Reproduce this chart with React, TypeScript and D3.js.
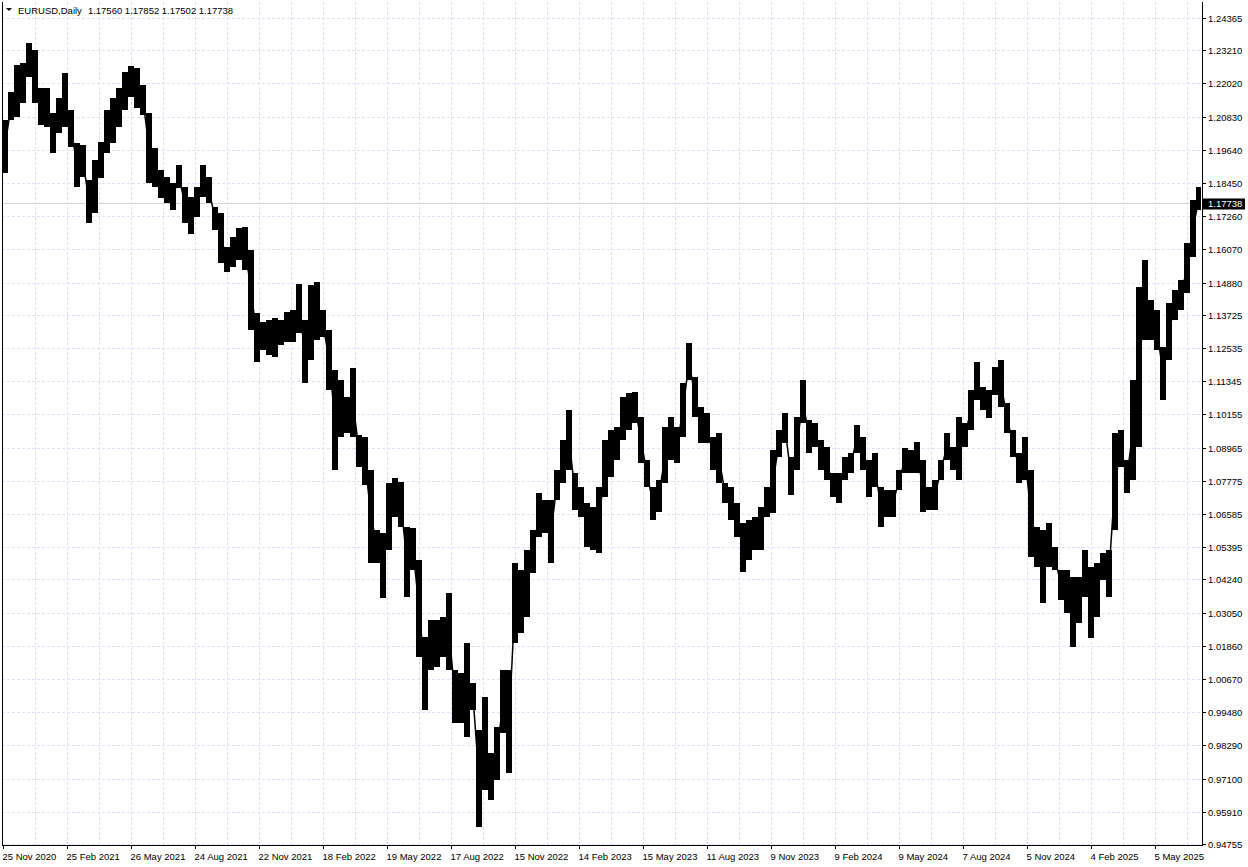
import * as d3 from "d3";

// EURUSD daily, one block = 6 sessions, high/low
const symbolTitle = "EURUSD,Daily";
const lastOhlc = ["1.17560", "1.17852", "1.17502", "1.17738"];
const lastPrice = 1.17738;

const priceTicks = [
  1.24365, 1.2321, 1.2202, 1.2083, 1.1964, 1.1845, 1.1726, 1.1607, 1.1488,
  1.13725, 1.12535, 1.11345, 1.10155, 1.08965, 1.07775, 1.06585, 1.05395,
  1.0424, 1.0305, 1.0186, 1.0067, 0.9948, 0.9829, 0.971, 0.9591, 0.94755,
];

const dateLabels = [
  "25 Nov 2020", "25 Feb 2021", "26 May 2021", "24 Aug 2021", "22 Nov 2021",
  "18 Feb 2022", "19 May 2022", "17 Aug 2022", "15 Nov 2022", "14 Feb 2023",
  "15 May 2023", "11 Aug 2023", "9 Nov 2023", "9 Feb 2024", "9 May 2024",
  "7 Aug 2024", "5 Nov 2024", "4 Feb 2025", "5 May 2025",
];

const barHigh = [
  1.2071, 1.2171, 1.2268, 1.2275, 1.2347, 1.2322, 1.2186, 1.2186, 1.2096, 1.215,
  1.2239, 1.2107, 1.1989, 1.1981, 1.1856, 1.1928, 1.1992, 1.2107, 1.215, 1.2186,
  1.2243, 1.2264, 1.2257, 1.2196, 1.2096, 1.1971, 1.1892, 1.1867, 1.1845, 1.191,
  1.1831, 1.1795, 1.1831, 1.191, 1.1867, 1.1759, 1.1738, 1.1616, 1.1652, 1.1684,
  1.1687, 1.1605, 1.1379, 1.1347, 1.1354, 1.1361, 1.1354, 1.1383, 1.139, 1.1483,
  1.1354, 1.148, 1.149, 1.139, 1.1318, 1.1175, 1.1139, 1.1078, 1.1182, 1.0942,
  1.0935, 1.0816, 1.0601, 1.0591, 1.077, 1.0788, 1.0773, 1.0612, 1.0609, 1.0494,
  1.0218, 1.0279, 1.0279, 1.029, 1.0376, 1.01, 1.0089, 1.0196, 1.0053, 0.9885,
  1.0003, 0.9802, 0.9895, 1.01, 1.01, 1.0483, 1.0458, 1.053, 1.0601, 1.0734,
  1.0709, 1.0709, 1.0816, 1.0924, 1.1032, 1.0806, 1.0756, 1.0698, 1.0684, 1.0756,
  1.0924, 1.096, 1.0971, 1.1078, 1.1092, 1.1096, 1.1006, 1.0852, 1.0756, 1.0781,
  1.0971, 1.1006, 1.0971, 1.1128, 1.1272, 1.115, 1.1042, 1.1021, 1.0935, 1.0949,
  1.077, 1.0756, 1.0698, 1.0626, 1.0637, 1.0648, 1.0684, 1.0756, 1.0888, 1.096,
  1.1021, 1.0863, 1.1006, 1.1139, 1.0996, 1.0985, 1.0924, 1.0899, 1.0806, 1.0806,
  1.0863, 1.0877, 1.0978, 1.0935, 1.0852, 1.0877, 1.0756, 1.0745, 1.0745, 1.0816,
  1.0895, 1.0888, 1.0917, 1.0852, 1.0756, 1.0781, 1.0852, 1.0949, 1.0899, 1.1006,
  1.0985, 1.1103, 1.1204, 1.1114, 1.1103, 1.1186, 1.1211, 1.1057, 1.096, 1.0877,
  1.0935, 1.0816, 1.0612, 1.0601, 1.0626, 1.054, 1.0458, 1.0458, 1.0433, 1.0433,
  1.053, 1.0469, 1.0483, 1.0519, 1.053, 1.0949, 1.096, 1.0852, 1.1139, 1.1472,
  1.1569, 1.1426, 1.139, 1.1257, 1.1415, 1.1462, 1.1497, 1.163, 1.1784, 1.1831,
];

const barLow = [
  1.1881, 1.2071, 1.2082, 1.2132, 1.2225, 1.2132, 1.2053, 1.2046, 1.1953, 1.2024,
  1.2046, 1.1974, 1.1831, 1.1867, 1.1702, 1.1738, 1.1863, 1.1953, 1.1989, 1.2046,
  1.2107, 1.2153, 1.2114, 1.2089, 1.1845, 1.1831, 1.1791, 1.1773, 1.1748, 1.1827,
  1.1702, 1.1662, 1.1723, 1.1795, 1.1773, 1.1677, 1.1558, 1.1526, 1.1544, 1.1569,
  1.1533, 1.1318, 1.1204, 1.1247, 1.1229, 1.1221, 1.1264, 1.1275, 1.1275, 1.1307,
  1.1128, 1.1211, 1.1282, 1.1293, 1.1103, 1.0816, 1.0935, 1.0949, 1.0935, 1.0827,
  1.0763, 1.0483, 1.0483, 1.0358, 1.053, 1.0648, 1.0612, 1.0361, 1.0458, 1.0146,
  0.9956, 1.01, 1.011, 1.0146, 1.01, 0.991, 0.991, 0.9859, 0.9956, 0.9537,
  0.967, 0.9634, 0.9705, 0.9874, 0.973, 1.0196, 1.0232, 1.029, 1.0447, 1.0576,
  1.0591, 1.0483, 1.0709, 1.077, 1.0816, 1.0673, 1.0648, 1.054, 1.053, 1.0519,
  1.072, 1.0791, 1.0852, 1.0924, 1.096, 1.0985, 1.0842, 1.0756, 1.0637, 1.0666,
  1.077, 1.0852, 1.0842, 1.0935, 1.1139, 1.1006, 1.0913, 1.0913, 1.0816, 1.077,
  1.0698, 1.0637, 1.0576, 1.0451, 1.0494, 1.053, 1.053, 1.0648, 1.0662, 1.0863,
  1.0913, 1.0727, 1.0816, 1.0985, 1.0877, 1.0899, 1.0816, 1.0781, 1.072, 1.0698,
  1.0781, 1.0806, 1.0877, 1.0816, 1.072, 1.0756, 1.0612, 1.0648, 1.0648, 1.0745,
  1.0806, 1.0806, 1.0806, 1.0666, 1.0673, 1.0673, 1.0781, 1.0852, 1.0816, 1.0781,
  1.0899, 1.096, 1.1067, 1.1032, 1.1003, 1.1085, 1.1042, 1.0949, 1.0863, 1.077,
  1.0781, 1.0505, 1.0469, 1.034, 1.0469, 1.0458, 1.0351, 1.0304, 1.0182, 1.0268,
  1.0361, 1.0214, 1.029, 1.0422, 1.0361, 1.0601, 1.0827, 1.0734, 1.0781, 1.0899,
  1.1282, 1.1282, 1.1247, 1.1067, 1.1211, 1.1354, 1.139, 1.1451, 1.158, 1.1748,
];

const SESSIONS_PER_BAR = 6;
const SESSIONS_PER_LABEL = 64;
const FONT = "'Liberation Sans', Arial, sans-serif";
const GRID = "#dedef5";

const App = () => {
  const width = 1248;
  const height = 867;
  const left = 2;
  const right = 1202;
  const bottom = 845;

  const x = d3.scaleLinear().domain([0, 1197]).range([2, 1199]);
  const y = d3.scaleLinear().domain([0.94755, 1.24365]).range([844, 18]);

  const bars = barHigh.map((h, i) => ({ i, h, l: barLow[i] }));
  const mid = d3
    .line<(typeof bars)[number]>()
    .x((d) => x(d.i * SESSIONS_PER_BAR + SESSIONS_PER_BAR / 2))
    .y((d) => y((d.h + d.l) / 2));

  const vGrid = d3.range(1, 38).map((k) => x(k * 32 + 1));
  const labelX = dateLabels.map((_, k) => x(k * SESSIONS_PER_LABEL + 1));

  return (
    <svg
      width={width}
      height={height}
      style={{ position: "absolute", left: 0, top: 0, background: "#fff" }}
      fontFamily={FONT}
      fontSize={9.5}
    >
      <defs>
        <clipPath id="plot">
          <rect x={left + 1} y={0} width={right - left - 2} height={bottom} />
        </clipPath>
      </defs>

      {/* grid */}
      <g stroke={GRID} strokeDasharray="3,2" shapeRendering="crispEdges">
        {vGrid.map((gx, k) => (
          <line key={"v" + k} x1={Math.round(gx) + 0.5} x2={Math.round(gx) + 0.5} y1={2} y2={bottom} />
        ))}
        {priceTicks.map((p, k) => (
          <line key={"h" + k} x1={left} x2={right} y1={Math.round(y(p)) + 0.5} y2={Math.round(y(p)) + 0.5} />
        ))}
      </g>

      {/* last price line */}
      <line
        x1={left}
        x2={right}
        y1={Math.round(y(lastPrice)) + 0.5}
        y2={Math.round(y(lastPrice)) + 0.5}
        stroke="#d4d4dc"
        shapeRendering="crispEdges"
      />

      {/* bars */}
      <g clipPath="url(#plot)">
        <path d={mid(bars) ?? ""} fill="none" stroke="#000" strokeWidth={1.5} />
        <g fill="#000" shapeRendering="crispEdges">
          {bars.map((d) => (
            <rect
              key={d.i}
              x={x(d.i * SESSIONS_PER_BAR)}
              width={x(SESSIONS_PER_BAR) - x(0)}
              y={y(d.h)}
              height={Math.max(1, y(d.l) - y(d.h))}
            />
          ))}
        </g>
      </g>

      {/* frame */}
      <g stroke="#000" shapeRendering="crispEdges">
        <line x1={left + 0.5} x2={left + 0.5} y1={2} y2={bottom + 0.5} />
        <line x1={left} x2={right + 0.5} y1={bottom + 0.5} y2={bottom + 0.5} />
        <line x1={right + 0.5} x2={right + 0.5} y1={2} y2={bottom + 0.5} />
      </g>

      {/* price axis */}
      <g>
        {priceTicks.map((p, k) => (
          <g key={k} transform={`translate(0,${Math.round(y(p)) + 0.5})`}>
            <line x1={right} x2={right + 4} stroke="#000" shapeRendering="crispEdges" />
            <text x={right + 6} dy="0.35em" fill="#000">
              {p.toFixed(5)}
            </text>
          </g>
        ))}
        <g transform={`translate(0,${Math.round(y(lastPrice)) + 0.5})`}>
          <rect x={right + 1} y={-5} width={42} height={11} fill="#000" />
          <text x={right + 6} dy="0.35em" fill="#fff">
            {lastPrice.toFixed(5)}
          </text>
        </g>
      </g>

      {/* time axis */}
      <g>
        {dateLabels.map((t, k) => (
          <g key={t} transform={`translate(${Math.round(labelX[k]) + 0.5},0)`}>
            <line y1={bottom} y2={bottom + 4} stroke="#000" shapeRendering="crispEdges" />
            <text x={-1} y={bottom + 15} fill="#000">
              {t}
            </text>
          </g>
        ))}
      </g>

      {/* header */}
      <path d="M6,8 L12,8 L9,11 Z" fill="#000" />
      <text x={18} y={14} fill="#000">
        {symbolTitle}
        <tspan dx={6}>{lastOhlc.join(" ")}</tspan>
      </text>
    </svg>
  );
};

export default App;
